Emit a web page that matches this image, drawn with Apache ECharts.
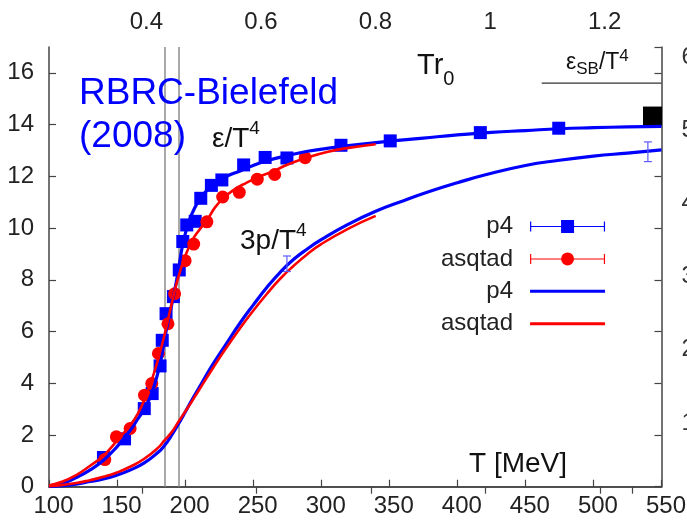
<!DOCTYPE html>
<html>
<head>
<meta charset="utf-8">
<script src="https://cdn.jsdelivr.net/npm/echarts@6/dist/echarts.min.js"></script>
<style>html,body{margin:0;padding:0;background:#fff}#chart{width:687px;height:526px}</style>
</head>
<body>
<div id="chart"></div>
<script>
// Lattice QCD equation of state: energy density and pressure vs temperature

// p4 action, eps/T^4 data points (T in MeV)
const p4EpsT = [140, 155.5, 170, 175.8, 181.6, 183.2, 186, 191.4, 195.7, 198.3, 201.2, 207.4, 211.5, 219.3, 227, 243, 258.8, 274.8, 314.5, 350.7, 416.9, 474.5];
const p4Eps  = [1.13, 1.85, 3.02, 3.6, 4.67, 5.66, 6.69, 7.35, 8.38, 9.48, 10.12, 10.26, 11.15, 11.65, 11.86, 12.44, 12.73, 12.71, 13.2, 13.37, 13.69, 13.86];

// asqtad action, eps/T^4 data points
const asqEpsT = [141, 149.5, 159.6, 170.2, 175.5, 180.4, 187.4, 192.3, 200, 206.3, 216, 227.6, 239.8, 253, 265.8, 288.2];
const asqEps  = [1.05, 1.93, 2.25, 3.54, 3.99, 5.15, 6.3, 7.46, 8.74, 9.38, 10.24, 11.2, 11.38, 11.89, 12.07, 12.72];

// interpolating curves, eps/T^4
const p4EpsCurveT = [100, 110, 120, 130, 140, 150, 160, 165, 170, 175, 180, 183, 186, 189, 192, 195, 198, 201, 205, 210, 215, 220, 230, 240, 250, 260, 275, 290, 310, 330, 350, 375, 400, 425, 450, 475, 500, 525, 550];
const p4EpsCurve  = [0.03, 0.13, 0.35, 0.64, 1.02, 1.55, 2.2, 2.6, 3.0, 3.55, 4.4, 5.1, 6.0, 6.75, 7.5, 8.35, 9.3, 9.95, 10.55, 11.05, 11.4, 11.62, 11.98, 12.2, 12.42, 12.6, 12.8, 12.97, 13.12, 13.25, 13.36, 13.48, 13.6, 13.7, 13.77, 13.84, 13.88, 13.91, 13.93];
const asqEpsCurveT = [100, 110, 120, 130, 140, 150, 160, 165, 170, 175, 180, 185, 190, 195, 200, 205, 210, 216, 222, 228, 235, 245, 255, 265, 275, 290, 305, 320, 340];
const asqEpsCurve  = [0.05, 0.2, 0.45, 0.8, 1.2, 1.78, 2.4, 2.8, 3.35, 4.05, 4.9, 5.9, 7.05, 8.1, 8.9, 9.5, 9.9, 10.3, 10.8, 11.15, 11.45, 11.75, 12.0, 12.2, 12.45, 12.73, 12.95, 13.1, 13.24];

// interpolating curves, 3p/T^4
const p4PresT = [100, 110, 120, 130, 140, 150, 160, 170, 180, 185, 190, 195, 200, 205, 210, 220, 230, 240, 250, 260, 270, 280, 290, 300, 320, 340, 360, 380, 400, 420, 450, 475, 500, 525, 550];
const p4Pres  = [0.0, 0.04, 0.1, 0.2, 0.3, 0.45, 0.65, 0.92, 1.32, 1.6, 1.98, 2.42, 2.88, 3.35, 3.8, 4.7, 5.5, 6.3, 7.02, 7.7, 8.3, 8.8, 9.2, 9.55, 10.15, 10.65, 11.05, 11.42, 11.75, 12.05, 12.42, 12.62, 12.78, 12.9, 13.02];
const asqPresT = [100, 110, 120, 130, 140, 150, 160, 170, 180, 185, 190, 195, 200, 205, 210, 220, 230, 240, 250, 260, 270, 280, 290, 300, 320, 340];
const asqPres  = [0.02, 0.07, 0.14, 0.25, 0.38, 0.55, 0.78, 1.08, 1.5, 1.8, 2.1, 2.5, 2.9, 3.3, 3.72, 4.55, 5.35, 6.1, 6.8, 7.45, 8.05, 8.55, 9.0, 9.38, 9.98, 10.47];

// systematic error bars on 3p/T^4: [T, value, half-width]
const presErrT   = [274.8, 540];
const presErrVal = [8.62, 12.95];
const presErrHW  = [0.3, 0.38];

// Stefan-Boltzmann limit and high-T marker
const sbLimit = 15.6;
const sbLineT = [462, 550];
const highTPointT = [543.4];
const highTPoint  = [14.33];

// transition temperatures (vertical guides)
const tcValues = [185.3, 195.4];

// axes
const tRange = [100, 550];
const epsRange = [0, 17];
const r0 = 0.469, hbarc = 197.327;          // fm, MeV fm
const tr0Labels = [0.4, 0.6, 0.8, 1, 1.2];
const tr0Ticks  = [0.4, 0.6, 0.8, 1, 1.2, 1.256];
const outerLabels = [1, 2, 3, 4, 5, 6];
const outerRange = [0.13, 6.137];

const FONT = '"Liberation Sans", Arial, Helvetica, sans-serif';
const BLUE = '#0000ff', RED = '#ff0000', AXIS = '#444';
const zip = (xs, ys) => xs.map((x, i) => [x, ys[i]]);

const chart = echarts.init(document.getElementById('chart'), null, {renderer: 'canvas'});

const axisLine = {lineStyle: {color: AXIS, width: 1.5}};
const tickIn = {inside: true, length: 7, lineStyle: {color: AXIS, width: 1.2}};
const labelStyle = {fontSize: 24, fontFamily: FONT, color: '#222'};

const sqIcon = 'path://M0,2h1.2v10h-1.2z M73.8,2h1.2v10h-1.2z M0,6.5h75v1h-75z M31,0.5h13v13h-13z';
const circIcon = 'path://M0,2h1.2v10h-1.2z M73.8,2h1.2v10h-1.2z M0,6.5h75v1h-75z M44,7a6.5,6.5 0 1,1 -13,0a6.5,6.5 0 1,1 13,0z';
const lineIcon = 'path://M0,0h75v3h-75z';

const curve = (name, color, width, xs, ys, z) => ({
  name: name, type: 'line', symbol: 'none', smooth: true,
  lineStyle: {color: color, width: width}, itemStyle: {color: color},
  data: zip(xs, ys), z: z
});

const option = {
  animation: false,
  backgroundColor: '#fff',
  grid: {left: 49, right: 25.5, top: 47, bottom: 39.3, outerBoundsMode: 'none', containLabel: false},
  xAxis: [
    {
      type: 'value', position: 'bottom', min: tRange[0], max: tRange[1], interval: 50,
      axisLine: axisLine, axisTick: tickIn, splitLine: {show: false},
      axisLabel: Object.assign({margin: 8, padding: [0, 0, 0, 9]}, labelStyle)
    },
    {
      type: 'value', position: 'top',
      min: tRange[0] * r0 / hbarc, max: tRange[1] * r0 / hbarc,
      axisLine: axisLine, splitLine: {show: false},
      axisTick: Object.assign({customValues: tr0Ticks}, tickIn),
      axisLabel: Object.assign({margin: 13, padding: [0, 0, 0, 9], customValues: tr0Labels, formatter: v => String(v)}, labelStyle)
    }
  ],
  yAxis: [
    {
      type: 'value', position: 'left', min: epsRange[0], max: epsRange[1], interval: 2,
      axisLine: axisLine, axisTick: tickIn, splitLine: {show: false},
      axisLabel: Object.assign({margin: 15, showMaxLabel: false}, labelStyle)
    },
    {
      type: 'value', position: 'right', min: epsRange[0], max: epsRange[1], interval: 2,
      axisLine: axisLine, axisTick: tickIn, splitLine: {show: false},
      axisLabel: {show: false}
    },
    {
      type: 'value', position: 'right', min: outerRange[0], max: outerRange[1],
      axisLine: {show: false}, axisTick: {show: false}, splitLine: {show: false},
      axisLabel: Object.assign({margin: 20, customValues: outerLabels}, labelStyle, {color: '#333'})
    }
  ],
  legend: {
    orient: 'vertical', left: 441, top: 214.5, align: 'right', padding: 0,
    itemWidth: 75, itemHeight: 14, itemGap: 8.4, symbolKeepAspect: true,
    textStyle: {fontSize: 24, fontFamily: FONT, color: '#222', width: 92, align: 'right', padding: [0, 12, 0, 0]},
    formatter: n => n.replace(' fit', ''),
    data: [
      {name: 'p4', icon: sqIcon},
      {name: 'asqtad', icon: circIcon},
      {name: 'p4 fit', icon: lineIcon},
      {name: 'asqtad fit', icon: lineIcon}
    ]
  },
  series: [
    {
      name: 'p4', type: 'scatter', symbol: 'rect', symbolSize: 13,
      itemStyle: {color: BLUE, opacity: 1}, data: zip(p4EpsT, p4Eps), z: 3
    },
    {
      name: 'asqtad', type: 'scatter', symbol: 'circle', symbolSize: 13,
      itemStyle: {color: RED, opacity: 1}, data: zip(asqEpsT, asqEps), z: 3
    },
    curve('p4 fit', BLUE, 3.2, p4EpsCurveT, p4EpsCurve, 4),
    curve('asqtad fit', RED, 2.6, asqEpsCurveT, asqEpsCurve, 5),
    curve('p4 fit', BLUE, 3.2, p4PresT, p4Pres, 4),
    curve('asqtad fit', RED, 2.6, asqPresT, asqPres, 5),
    {
      name: 'pressure errors', type: 'custom', z: 6,
      data: presErrT.map((t, i) => [t, presErrVal[i], presErrHW[i]]),
      renderItem: function (params, api) {
        const x = api.value(0), y = api.value(1), e = api.value(2);
        const lo = api.coord([x, y - e]), hi = api.coord([x, y + e]);
        const c = 4, st = {stroke: '#5a5aff', lineWidth: 1.2};
        return {type: 'group', children: [
          {type: 'line', shape: {x1: lo[0], y1: lo[1], x2: hi[0], y2: hi[1]}, style: st},
          {type: 'line', shape: {x1: lo[0] - c, y1: lo[1], x2: lo[0] + c, y2: lo[1]}, style: st},
          {type: 'line', shape: {x1: hi[0] - c, y1: hi[1], x2: hi[0] + c, y2: hi[1]}, style: st}
        ]};
      }
    },
    {
      name: 'SB limit', type: 'line', symbol: 'none',
      lineStyle: {color: '#333', width: 1.2},
      data: sbLineT.map(t => [t, sbLimit]), z: 2
    },
    {
      name: 'high T', type: 'scatter', symbol: 'rect', symbolSize: 19,
      itemStyle: {color: '#000', opacity: 1}, data: zip(highTPointT, highTPoint), z: 3
    },
    {
      name: 'Tc', type: 'line', data: [], z: 1,
      markLine: {
        z: 1, silent: true, symbol: 'none', label: {show: false},
        lineStyle: {color: '#8c8c8c', width: 1.5, type: 'solid'},
        data: tcValues.map(v => ({xAxis: v}))
      }
    }
  ],
  graphic: [
    {
      type: 'text', left: 79, top: 72, z: 10,
      style: {text: 'RBRC-Bielefeld\n(2008)', font: '37px ' + FONT, fill: BLUE, lineHeight: 43}
    },
    {
      type: 'text', left: 417, top: 51, z: 10,
      style: {
        text: '{a|Tr}{b|0}',
        rich: {
          a: {fontSize: 29, fontFamily: FONT, fill: '#111', lineHeight: 38, verticalAlign: 'top'},
          b: {fontSize: 20, fontFamily: FONT, fill: '#111', lineHeight: 38, verticalAlign: 'bottom'}
        }
      }
    },
    {
      type: 'text', left: 212, top: 119, z: 10,
      style: {
        text: '{a|ε/T}{b|4}',
        rich: {
          a: {fontSize: 28, fontFamily: FONT, fill: '#111', lineHeight: 34, verticalAlign: 'bottom'},
          b: {fontSize: 19, fontFamily: FONT, fill: '#111', lineHeight: 34, verticalAlign: 'top'}
        }
      }
    },
    {
      type: 'text', left: 240, top: 221, z: 10,
      style: {
        text: '{a|3p/T}{b|4}',
        rich: {
          a: {fontSize: 28, fontFamily: FONT, fill: '#111', lineHeight: 34, verticalAlign: 'bottom'},
          b: {fontSize: 19, fontFamily: FONT, fill: '#111', lineHeight: 34, verticalAlign: 'top'}
        }
      }
    },
    {
      type: 'text', left: 566, top: 48, z: 10,
      style: {
        text: '{a|ε}{c|SB}{a|/T}{b|4}',
        rich: {
          a: {fontSize: 23, fontFamily: FONT, fill: '#111', lineHeight: 30, verticalAlign: 'middle'},
          b: {fontSize: 17, fontFamily: FONT, fill: '#111', lineHeight: 30, verticalAlign: 'top'},
          c: {fontSize: 17, fontFamily: FONT, fill: '#111', lineHeight: 30, verticalAlign: 'bottom'}
        }
      }
    },
    {
      type: 'text', left: 469, top: 450, z: 10,
      style: {text: 'T [MeV]', font: '28px ' + FONT, fill: '#111'}
    }
  ]
};

chart.setOption(option);
</script>
</body>
</html>
